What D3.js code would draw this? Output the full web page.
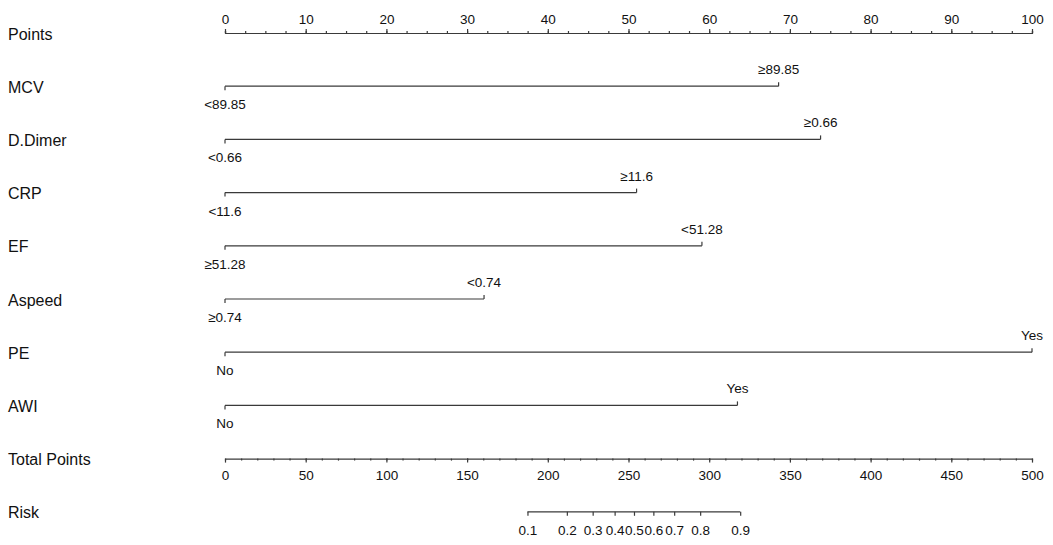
<!DOCTYPE html>
<html>
<head>
<meta charset="utf-8">
<script src="https://cdn.jsdelivr.net/npm/d3@7"></script>
<style>
  body { margin: 0; background: #fff; }
  svg { font-family: "Liberation Sans", Arial, sans-serif; }
  .axis path, .axis line { stroke: #3a3a3a; stroke-width: 1.2; }
  .axis text { fill: #111; }
</style>
</head>
<body>
<script>
// Nomogram: points per predictor, total points and risk

// Data
var rowNames = ["Points", "MCV", "D.Dimer", "CRP", "EF", "Aspeed", "PE", "AWI", "Total Points", "Risk"];
var variables = ["MCV", "D.Dimer", "CRP", "EF", "Aspeed", "PE", "AWI"];
var lowLabels = ["<89.85", "<0.66", "<11.6", "≥51.28", "≥0.74", "No", "No"];
var highLabels = ["≥89.85", "≥0.66", "≥11.6", "<51.28", "<0.74", "Yes", "Yes"];
var highPoints = [68.6, 73.8, 51.0, 59.1, 32.1, 100, 63.5];

var pointTicks = d3.range(0, 101, 10);
var pointMinor = d3.range(0, 100.1, 2.5);
var totalTicks = d3.range(0, 501, 50);
var totalMinor = d3.range(0, 501, 10);
var riskLabels = ["0.1", "0.2", "0.3", "0.4", "0.5", "0.6", "0.7", "0.8", "0.9"];
var riskPoints = [187.4, 211.8, 227.8, 241.4, 253.4, 265.4, 278.3, 294.4, 319.2];

// Setup
var w = 1053;
var h = 545;
var left = 225;
var right = 1032;
var stroke = "#3a3a3a";
var fs = 13.5;

var svg = d3.select("body").append("svg")
    .attr("width", w)
    .attr("height", h);

var x = d3.scaleLinear().domain([0, 100]).range([left, right]);
var xTotal = d3.scaleLinear().domain([0, 500]).range([left, right]);
var y = d3.scalePoint().domain(rowNames).range([33, 511.8]);

// Row labels on the left
svg.append("g").selectAll("text")
    .data(rowNames)
    .enter()
    .append("text")
    .attr("x", 8)
    .attr("y", function(d) { return y(d) + 6.5; })
    .attr("font-size", 16)
    .attr("fill", "#111")
    .text(function(d) { return d; });

// Points axis (top)
var pointsG = svg.append("g")
    .attr("class", "axis")
    .attr("transform", "translate(0," + y("Points") + ")");
pointsG.call(d3.axisTop(x).tickValues(pointMinor).tickSize(2).tickFormat(""));
pointsG.append("g")
    .call(d3.axisTop(x).tickValues(pointTicks).tickSize(4).tickSizeOuter(0).tickPadding(5))
    .call(function(g) { g.select(".domain").remove(); g.selectAll("text").attr("font-size", fs); })
    .attr("font-family", null);

// Predictor lines
var rows = svg.append("g").selectAll("g")
    .data(variables)
    .enter()
    .append("g")
    .attr("transform", function(d) { return "translate(0," + y(d) + ")"; });

rows.append("line")
    .attr("x1", x(0))
    .attr("x2", function(d, i) { return x(highPoints[i]); })
    .attr("stroke", stroke)
    .attr("stroke-width", 1.2);

rows.append("line")
    .attr("x1", x(0)).attr("x2", x(0))
    .attr("y1", 0).attr("y2", 4)
    .attr("stroke", stroke)
    .attr("stroke-width", 1.2);

rows.append("line")
    .attr("x1", function(d, i) { return x(highPoints[i]); })
    .attr("x2", function(d, i) { return x(highPoints[i]); })
    .attr("y1", 0).attr("y2", -4)
    .attr("stroke", stroke)
    .attr("stroke-width", 1.2);

rows.append("text")
    .attr("x", x(0))
    .attr("y", 23)
    .attr("text-anchor", "middle")
    .attr("font-size", fs)
    .attr("fill", "#111")
    .text(function(d, i) { return lowLabels[i]; });

rows.append("text")
    .attr("x", function(d, i) { return x(highPoints[i]); })
    .attr("y", -12)
    .attr("text-anchor", "middle")
    .attr("font-size", fs)
    .attr("fill", "#111")
    .text(function(d, i) { return highLabels[i]; });

// Total points axis
var totalG = svg.append("g")
    .attr("class", "axis")
    .attr("transform", "translate(0," + y("Total Points") + ")");
totalG.call(d3.axisBottom(xTotal).tickValues(totalMinor).tickSize(2).tickSizeOuter(0).tickFormat(""));
totalG.append("g")
    .call(d3.axisBottom(xTotal).tickValues(totalTicks).tickSize(4).tickPadding(8))
    .call(function(g) { g.select(".domain").remove(); g.selectAll("text").attr("font-size", fs); })
    .attr("font-family", null);

// Risk axis
var riskG = svg.append("g")
    .attr("class", "axis")
    .attr("transform", "translate(0," + y("Risk") + ")");
riskG.call(d3.axisBottom(xTotal)
        .tickValues(riskPoints)
        .tickSize(4)
        .tickPadding(10)
        .tickFormat(function(d, i) { return riskLabels[i]; }))
    .call(function(g) { g.select(".domain").remove(); g.selectAll("text").attr("font-size", fs); })
    .attr("font-family", null);
riskG.append("line")
    .attr("x1", xTotal(d3.min(riskPoints)))
    .attr("x2", xTotal(d3.max(riskPoints)))
    .attr("stroke", stroke)
    .attr("stroke-width", 1.2);
</script>
</body>
</html>
